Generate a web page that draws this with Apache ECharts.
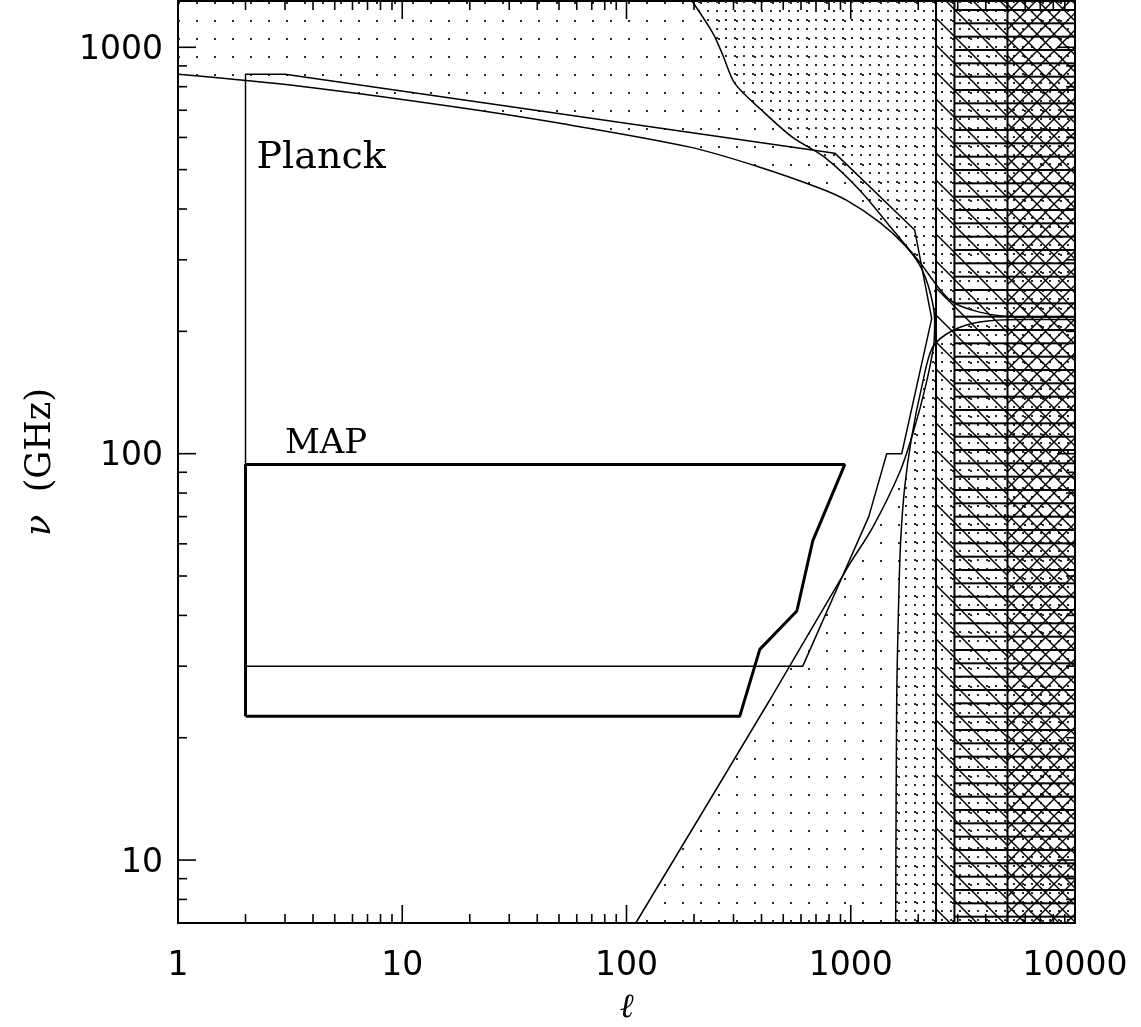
<!DOCTYPE html>
<html><head><meta charset="utf-8">
<script src="https://cdn.jsdelivr.net/npm/echarts@6/dist/echarts.min.js"></script>
<style>html,body{margin:0;padding:0;background:#fff}#c{width:1141px;height:1027px}</style>
</head><body><div id="c"></div>
<script>
// ---------- axis ranges & ticks ----------
const xRange = [1, 10000];
const yRange = [7, 1300];
const xTickLabels = [1, 10, 100, 1000, 10000];
const yTickLabels = [10, 100, 1000];
const xMinorTicks = [2,3,4,5,6,7,8,9,20,30,40,50,60,70,80,90,200,300,400,500,600,700,800,900,2000,3000,4000,5000,6000,7000,8000,9000];
const yMinorTicks = [8,9,20,30,40,50,60,70,80,90,200,300,400,500,600,700,800,900];

// ---------- curves (ell, nu[GHz]) ----------
// smooth "C" contour: upper branch (left edge -> nose) then lower branch (nose -> bottom)
const cUpper = [[1,858],[3.51,802],[16.4,716],[50.6,650],[192,568],[393,507],[728,450],[960,420],[1347,371],[1740,326],[2030,291],[2248,252],[2367,213]];
const cLower = [[2343,185],[2159,147],[1909,114],[1653,90],[1253,65.9],[970,52.6],[436,24.8],[110,7]];
// steep contour from the top (dense-dot boundary, high frequency side)
const dCurve = [[196,1300],[243,1082],[269,956],[304,815],[401,700],[551,600],[766,536],[1097,445],[1570,351],[2030,296],[2761,239],[3755,223],[5660,217],[10000,217]];
// near-vertical contour (dense-dot boundary, low frequency side)
const vCurve = [[1586,7],[1603,24.8],[1636,43.6],[1670,61.2],[1740,82.7],[1870,110],[2072,146],[2319,183],[2847,201],[3755,211],[5660,214],[10000,214]];
// experiments
const planckBox = [[2,30],[2,858],[3,858],[849,549],[1928,355],[2296,215],[1688,100],[1447,100],[1203,70],[611,30],[2,30]];
const mapBox = [[2,22.6],[2,94],[940,94],[677,61],[575,41],[393,33],[320,22.6],[2,22.6]];
// hatched high-ell bands: backslash from 2400, horizontal from 2900, cross from 5000
const hatchStarts = [2400, 2900, 5000];
// text annotations
const noteTexts = ['Planck', 'MAP'];
const notePos = [[2.24, 535], [3.0, 105.5]];

// ---------- patterns ----------
function mk(w, h) { const c = document.createElement('canvas'); c.width = w; c.height = h; return c; }
function dots(p, ox, oy) {
  const c = mk(p, p), g = c.getContext('2d');
  g.fillStyle = '#2a2a2a'; g.fillRect(ox, oy, 2, 2);
  return {image: c, repeat: 'repeat'};
}
function diag(p, dir, lw) {
  const c = mk(p, p), g = c.getContext('2d');
  g.strokeStyle = '#000'; g.lineWidth = lw;
  for (let k = -1; k <= 1; k++) {
    g.beginPath();
    if (dir > 0) { g.moveTo(-2 + k * p, -2); g.lineTo(p + 2 + k * p, p + 2); }
    else { g.moveTo(-2 + k * p, p + 2); g.lineTo(p + 2 + k * p, -2); }
    g.stroke();
  }
  return {image: c, repeat: 'repeat'};
}
function horiz() {
  const c = mk(4, 40), g = c.getContext('2d');
  g.fillStyle = '#000';
  [10, 23.33, 36.67].forEach(y => g.fillRect(0, y - 1, 4, 2));
  return {image: c, repeat: 'repeat'};
}
const P_SPARSE = dots(18, 16, 2);
const P_DENSE = dots(9, 5, 1);
const P_BACK = diag(27, 1, 1.5);
const P_BACK2 = diag(17, 1, 1.4);
const P_FWD = diag(17, -1, 1.4);
const P_HOR = horiz();

// ---------- helpers ----------
function poly(points, fill) {
  return {
    type: 'custom', silent: true, animation: false,
    data: [points[0]],
    renderItem: function (params, api) {
      return {type: 'polygon', shape: {points: points.map(p => api.coord(p))},
              style: {fill: fill, lineWidth: 0}};
    }
  };
}
function line(points, w, smooth) {
  return {type: 'line', data: points, symbol: 'none', showSymbol: false, silent: true,
          animation: false, clip: true, smooth: smooth || false, lineStyle: {color: '#000', width: w}};
}
const X0 = xRange[0], X1 = xRange[1], Y0 = yRange[0], Y1 = yRange[1];
const sparseRegion = [].concat(cUpper, cLower, [[X1, Y0], [X1, Y1], [X0, Y1]]);
const denseTop = [].concat(dCurve, [[X1, Y1]]);
const denseBot = [].concat(vCurve, [[X1, Y0]]);
const band = (a, b) => [[a, Y0], [b, Y0], [b, Y1], [a, Y1]];

const xTickData = xTickLabels.map(v => [v, Y0, 1]).concat(xMinorTicks.map(v => [v, Y0, 0]));
const yTickData = yTickLabels.map(v => [X0, v, 1]).concat(yMinorTicks.map(v => [X0, v, 0]));

const series = [
  poly(sparseRegion, P_SPARSE),
  poly(denseTop, P_DENSE),
  poly(denseBot, P_DENSE),
  poly(band(hatchStarts[0], hatchStarts[2]), P_BACK),
  poly(band(hatchStarts[1], X1), P_HOR),
  poly(band(hatchStarts[2], X1), P_FWD),
  poly(band(hatchStarts[2], X1), P_BACK2),
  line([[hatchStarts[0], Y0], [hatchStarts[0], Y1]], 2),
  line([[hatchStarts[1], Y0], [hatchStarts[1], Y1]], 2),
  line([[hatchStarts[2], Y0], [hatchStarts[2], Y1]], 2),
  line(cUpper.concat(cLower), 1.5, 0.3),
  line(dCurve, 1.5, 0.3),
  line(vCurve, 1.5, 0.3),
  line(planckBox, 1.5),
  line(mapBox, 3),
  { // x ticks (bottom + top)
    type: 'custom', silent: true, animation: false, data: xTickData, z: 5,
    renderItem: function (params, api) {
      const cs = params.coordSys, p = api.coord([api.value(0), Y0]);
      const len = api.value(2) ? 18 : 9, b = cs.y + cs.height;
      return {type: 'group', children: [
        {type: 'line', shape: {x1: p[0], y1: b, x2: p[0], y2: b - len}, style: {stroke: '#000', lineWidth: 1.6}},
        {type: 'line', shape: {x1: p[0], y1: cs.y, x2: p[0], y2: cs.y + len}, style: {stroke: '#000', lineWidth: 1.6}}
      ]};
    }
  },
  { // y ticks (left + right)
    type: 'custom', silent: true, animation: false, data: yTickData, z: 5,
    renderItem: function (params, api) {
      const cs = params.coordSys, p = api.coord([X0, api.value(1)]);
      const len = api.value(2) ? 18 : 9, r = cs.x + cs.width;
      return {type: 'group', children: [
        {type: 'line', shape: {x1: cs.x, y1: p[1], x2: cs.x + len, y2: p[1]}, style: {stroke: '#000', lineWidth: 1.6}},
        {type: 'line', shape: {x1: r, y1: p[1], x2: r - len, y2: p[1]}, style: {stroke: '#000', lineWidth: 1.6}}
      ]};
    }
  },
  { // x tick labels
    type: 'custom', silent: true, animation: false, data: xTickLabels.map(v => [v, Y0]), z: 5,
    renderItem: function (params, api) {
      const p = api.coord([api.value(0), Y0]);
      return {type: 'text', x: p[0], y: p[1] + 43,
              style: {text: String(api.value(0)), fill: '#000', font: '33px "DejaVu Sans"', align: 'center', verticalAlign: 'middle'}};
    }
  },
  { // y tick labels
    type: 'custom', silent: true, animation: false, data: yTickLabels.map(v => [X0, v]), z: 5,
    renderItem: function (params, api) {
      const p = api.coord([X0, api.value(1)]);
      return {type: 'text', x: p[0] - 15, y: p[1] + 3,
              style: {text: String(api.value(1)), fill: '#000', font: '33px "DejaVu Sans"', align: 'right', verticalAlign: 'middle'}};
    }
  },
  { // annotations
    type: 'custom', silent: true, animation: false, data: notePos, z: 5,
    renderItem: function (params, api) {
      const p = api.coord([api.value(0), api.value(1)]);
      const i = params.dataIndex;
      return {type: 'text', x: p[0], y: p[1],
              style: {text: noteTexts[i], fill: '#000', font: (i === 0 ? 38 : 34) + 'px "DejaVu Serif"', align: 'left', verticalAlign: 'middle'}};
    }
  }
];

const chart = echarts.init(document.getElementById('c'), null, {renderer: 'canvas'});
chart.setOption({
  backgroundColor: '#fff',
  animation: false,
  grid: {left: 178, top: 1, width: 897, height: 922, show: true, borderColor: '#000', borderWidth: 2,
         backgroundColor: 'transparent', containLabel: false, outerBoundsMode: 'none'},
  xAxis: {type: 'log', logBase: 10, min: X0, max: X1,
          axisLine: {show: false}, axisTick: {show: false}, axisLabel: {show: false}, splitLine: {show: false},
          name: 'ℓ', nameLocation: 'middle', nameGap: 68,
          nameTextStyle: {fontFamily: 'DejaVu Serif', fontStyle: 'italic', fontSize: 34, color: '#000'}},
  yAxis: {type: 'log', logBase: 10, min: Y0, max: Y1,
          axisLine: {show: false}, axisTick: {show: false}, axisLabel: {show: false}, splitLine: {show: false},
          name: '{nu|ν}  (GHz)', nameLocation: 'middle', nameGap: 120, nameRotate: 90,
          nameTextStyle: {fontFamily: 'DejaVu Serif', fontSize: 35, color: '#000',
                          rich: {nu: {fontFamily: 'DejaVu Serif', fontStyle: 'italic', fontSize: 35, color: '#000'}}}},
  series: series
});
</script></body></html>
